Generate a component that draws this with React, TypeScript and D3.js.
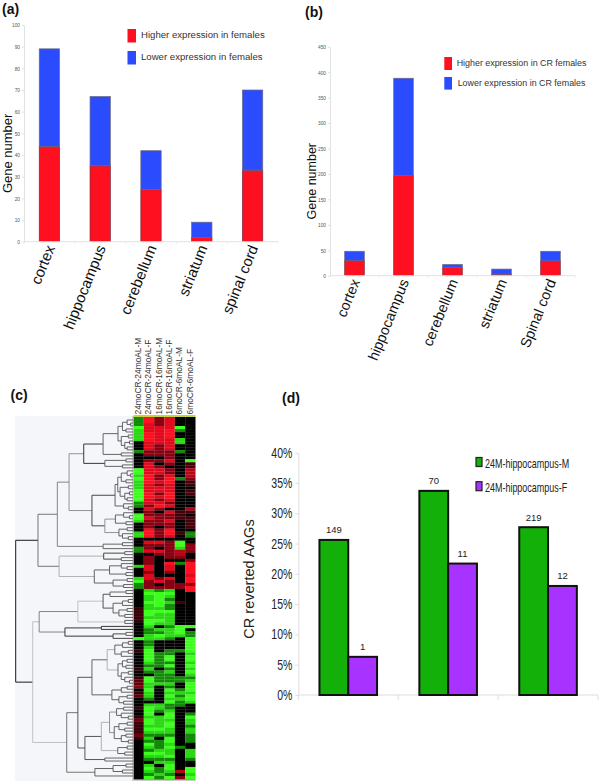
import React, { useEffect, useRef } from 'react';
import * as d3 from 'd3';

// panel (a) and (b)
const regionsA = ['cortex', 'hippocampus', 'cerebellum', 'striatum', 'spinal cord'];
const higherA = [44, 35, 24, 2, 33];
const lowerA = [45, 32, 18, 7, 37];
const regionsB = ['cortex', 'hippocampus', 'cerebellum', 'striatum', 'Spinal cord'];
const higherB = [30, 197, 16, 3, 29];
const lowerB = [18, 191, 6, 10, 19];

// panel (d)
const groupsD = ['g1', 'g2', 'g3'];
const maleD = [25.6, 33.7, 27.7];
const femaleD = [6.3, 21.7, 18];
const maleCounts = ['149', '70', '219'];
const femaleCounts = ['1', '11', '12'];

// panel (c) heat map, one array per column, red > 0, green < 0
const heatLabels = ['24moCR-24moAL-M', '24moCR-24moAL-F', '16moCR-16moAL-M', '16moCR-16moAL-F', '6moCR-6moAL-M', '6moCR-6moAL-F'];
const col24M = [
  -1, -1, -1, -3, -2, -2, -2, -2, 0, 0, 0, -1, 0, 0, 0, 0, 0, -3, -3, -2,
  -3, -2, -2, -2, -3, -3, -3, -3, -1, -1, 0, 0, -3, -3, -2, 0, 0, 0, -2, -2,
  0, 0, 0, -1, -1, 0, 0, 0, 0, -2, 0, 0, 0, -2, -3, -1, -1, 0, 0, 0,
  0, 0, 0, 0.4, 0.4, 0.4, 0.4, 0.4, 0, 0, 0, 0, 0, -3, 0, 0, 0, 0.4, 0, 0,
  0, 0, 0, 0.4, 0, 0, 0.4, 0.7, 0.7, 1, 0, 0.4, 0.7, 0, 0, 0, 0.4, 0, 0, 0.4,
  0.8, 0.4, 0.4, 0.4, 0.4, 0.8, 0.4, 0, 0, 0, 0, 0, 0, 0, 0, 0, 0, 0, 0, 0,
];
const col24F = [
  3, 3, 2, 2, 2, 3, 3, 3, 2, 2, 2, 1, 1, 0, 1, 2, 2, 2, 2, 3,
  3, 3, 2, 2, 2, 3, 3, 2, 2, 1, 2, 1, 1, 2, 1, 1, 1, 3, 3, 3,
  0, 2, 1, 1, 2, 0, 1, 1, 1, 2, 2, 1, 2, 2, 1, 1, 1, -2, -3, -2,
  -2, -3, -2, -2, -3, -3, -2, -3, -3, -2, -1, -1, -2, -2, -1, -1, -2, -3, -3, -3,
  -3, -2, -1, -2, -1, 0, -3, -3, -2, -2, -3, -2, -2, -1, 0, -2, -3, -3, -3, -2,
  -3, -3, -2, -3, -2, -1, -2, -1, -3, -2, -1, -3, -2, -1, 0, -2, -3, -2, -1, -3,
];
const col16M = [
  1, 1, 1, 2, 2, 2, 2, 2, 2, 1, 1, 1, 1, 0, 1, 0, 1, 2, 2, 1,
  1, 2, 1, 2, 2, 1, 2, 1, 2, 3, 1, 0, 1, 1, 1, 1, 0, 1, 1, 1,
  0, 2, 1, 0, 2, 1, 0, 0, 0, 0, 0, 0, 0, 1, 2, 0, 1, -1, -3, -3,
  -3, -3, -3, -2, -3, -2, -2, -3, -2, 0, -2, -1, -3, -2, 0, 0, 0, 0, -1, -1,
  -1, -1, -1, 0, -1, -1, -1, -1, -2, 0, 0, 0, 0, 0, 0, -2, -2, -1, 0, -2,
  -2, -2, -2, -3, -2, -1, 0, -1, -1, -1, -2, -3, -2, -1, -2, 0, -1, -1, -2, -1,
];
const col16F = [
  2, 2, 2, 2, 3, 3, 3, 2, 2, 2, 2, 1, 1, 1, 2, 1, 0, 1, 1, 2,
  3, 3, 2, 2, 2, 3, 3, 2, 1, 2, 0, 2, 1, 1, 2, 1, 1, 3, 3, 2,
  0, 1, 1, 1, 1, 1, 1, 0, 3, 2, 2, 1, 0, 2, 1, 1, 1, -2, -3, -2,
  -1, -2, -1, -1, -3, -2, -2, -2, -2, -1, -2, -2, -2, -1, 0, 0, 0, -1, -1, -3,
  -3, -1, -3, -1, -2, -1, -1, -1, -2, -1, -3, -2, -3, -2, -3, -1, -1, -2, -3, -3,
  -2, -3, -3, -2, -2, -1, -3, -3, -2, -3, -2, -2, -3, -1, -2, -3, -3, -2, -1, -3,
];
const col6M = [
  0, 0, 0, -3, -1, 0, 0, -2, -2, 0, 0, -1, 0, 0, 0, 0, 0, 0, 0, 0,
  -1, 0, 0, 0, 0, 0, 0, 0, 0, 0, 0, 0.5, 0.5, 0.5, 0, 0, 0, 0, 0.5, 0,
  0, -3, -3, -2, 1.5, 1.5, 1, 0, -1, 0, 0, 0, 0, 0, 0, 1, 1, 0, 0, 0,
  0, 0.5, 0, 0, 0, 0, 0, 0, 0, -3, -3, -3, -2, 0, 0, 0, 0, -1, 0, 0,
  0, 0, 0, 0, 0, 0, -1, -1, 0, 0, -1, -2, -1, -2, -1, -1, 0, 0, 0, 0,
  0, 0, 0, 0, 0, 0, 0, 0, 0, -1, 0, 0, 0, 0, 0, 0, 0, 1.5, 0, 1,
];
const col6F = [
  0, 0, 0, 0, 0, 0, 0, 0, 0, 0, 0, 0, 0, 0, -3, 0.5, 0.5, 1.5, 1.5, 1.5,
  1, 0.5, 0.5, 0, 0.5, 0.5, 0, 0, 0, 0, 1.5, 0.5, 0, 0.5, 0.5, 0.5, 0.5, 0, -1, -1,
  0, 0, 1, 1, 1, 0, 0, 1, 3, 3, 3, 3, 2, 3, 3, 1, 3, 3, 0, 0,
  0, 0, 0, 0, 0, 0, 0, 0, 0, -3, 0, -1, -1, -3, -3, -3, -3, -3, -2, -3,
  -3, -2, -3, -2, -3, -2, -1, -2, -3, -3, -3, -2, -3, -3, -2, 0, 0, 0, -1, -3,
  -2, -2, -1, -2, -2, -1, -1, -1, 0, 0, -2, -2, -2, -1, 0, 0, -3, -3, -2, -3,
];
const heatColumns = [col24M, col24F, col16M, col16F, col6M, col6F];

// panel (c) dendrogram: [merge distance, child, child, tone], 0 is a leaf (a heat map row)
type Branch = 0 | [number, Branch, Branch, string?];
const topLeft: Branch = [0.42,
  [0.255,
    [0.128, [0.09, [0.05, 0, [0.02, 0, 0]], [0.06, 0, 0]], [0.1, [0.04, 0, 0], [0.07, [0.03, 0, 0], [0.05, 0, 0]]]],
    [0.1, 0, 0]],
  [0.24, [0.06, 0, 0], [0.09, 0, 0]], '#222'];
const topRight: Branch = [0.35,
  [0.153,
    [0.13, [0.1, [0.05, 0, [0.02, 0, 0]], [0.06, 0, 0]], [0.11, [0.04, 0, 0], [0.07, [0.03, 0, 0], [0.05, 0, 0]]]],
    [0.08, 0, [0.04, 0, 0]]],
  [0.24, [0.15, [0.08, 0, [0.03, 0, 0]], [0.06, 0, 0]], [0.12, [0.05, 0, 0], [0.09, 0, [0.04, 0, 0]]], '#888'], '#333'];
const topSmall: Branch = [0.255, [0.09, 0, 0], 0];
const midUpper: Branch = [0.25, [0.07, 0, 0], [0.1, 0, 0], '#333'];
const midLower: Branch = [0.33, [0.2, [0.1, 0, [0.05, 0, 0]], [0.06, 0, 0]], [0.17, [0.05, 0, 0], [0.08, 0, 0]], '#555'];
const upperTree: Branch = [0.81,
  [0.645, [0.545, topLeft, topRight, '#888'], topSmall, '#777'],
  [0.63, midUpper, midLower, '#aaa'], '#666'];
const greenTop: Branch = [0.47,
  [0.255, [0.196, [0.06, 0, 0], 0], [0.17, [0.09, [0.04, 0, 0], 0], [0.12, [0.05, 0, 0], [0.07, 0, 0]]], '#444'],
  [0.07, 0, 0], '#bbb'];
const greenSmall: Branch = [0.58, [0.27, 0, 0, '#222'], [0.17, [0.06, 0, 0], 0, '#333'], '#222'];
const greenA: Branch = [0.35,
  [0.22,
    [0.155, [0.09, [0.04, 0, 0], 0], [0.1, [0.04, 0, 0], 0]],
    [0.128, [0.09, [0.05, 0, 0], [0.06, 0, 0]], [0.1, [0.04, 0, 0], [0.07, 0, [0.03, 0, 0]]]], '#aaa'],
  [0.18, [0.1, [0.05, 0, 0], 0], [0.12, [0.05, 0, 0], [0.08, 0, 0]]], '#555'];
const greenB: Branch = [0.41,
  [0.27,
    [0.2, [0.14, [0.08, 0, 0], [0.1, 0, [0.04, 0, 0]]], [0.16, [0.12, [0.05, 0, 0], [0.07, 0, 0]], [0.1, [0.06, 0, 0], [0.04, 0, 0]]], '#888'],
    [0.13, [0.05, 0, 0], [0.07, 0, 0]], '#aaa'],
  [0.24, 0, 0], '#444'];
const greenC: Branch = [0.325, [0.17, [0.06, 0, 0], [0.09, 0, 0]], 0, '#555'];
const lowerTree: Branch = [0.855,
  [0.8, greenTop, greenSmall, '#777'],
  [0.565, [0.47, greenA, greenB, '#444'], greenC, '#666'], '#bbb'];
const dendrogram: Branch = [1, upperTree, lowerTree, '#000'];

const RED = '#ff1020';
const BLUE = '#2b4bff';

const drawStacked = (
  svg: d3.Selection<SVGSVGElement, unknown, null, undefined>,
  opt: {
    names: string[]; higher: number[]; lower: number[]; max: number; step: number;
    left: number; right: number; top: number; bottom: number; labelSize: number; angle: number;
    titleX: number; titleSize: number;
  },
) => {
  const g = svg.append('g');
  const x = d3.scaleBand().domain(opt.names).range([opt.left, opt.right]).paddingInner(0.6).paddingOuter(0.3);
  const y = d3.scaleLinear().domain([0, opt.max]).range([opt.bottom, opt.top]);

  const rows = opt.names.map((name, i) => ({ name, higher: opt.higher[i], lower: opt.lower[i] }));
  const series = d3.stack<any>().keys(['higher', 'lower'])(rows);
  series.forEach((s, k) => {
    g.selectAll(null).data(s).enter().append('rect')
      .attr('x', (d: any) => x(d.data.name)!)
      .attr('width', x.bandwidth())
      .attr('y', (d: any) => y(d[1]))
      .attr('height', (d: any) => y(d[0]) - y(d[1]))
      .attr('fill', k === 0 ? RED : BLUE)
      .attr('stroke', k === 0 ? '#7a2a3a' : '#6a6a80')
      .attr('stroke-width', 0.7);
  });

  const yAxis = g.append('g').attr('transform', `translate(${opt.left},0)`)
    .call(d3.axisLeft(y).tickValues(d3.range(0, opt.max + 1, opt.step)).tickSize(2).tickPadding(2).tickSizeOuter(0));
  yAxis.selectAll('path,line').attr('stroke', '#e2e2e2');
  yAxis.selectAll('text')
    .attr('font-family', 'Liberation Sans').attr('font-size', 6).attr('fill', '#555')
    .attr('transform', function () {
      const tx = +d3.select(this).attr('x');
      return `translate(${tx * 0.2},0) scale(0.8,1)`;
    });

  // baseline with ticks at the band edges
  const edges = d3.range(opt.names.length + 1).map((i) => opt.left + (i * (opt.right - opt.left)) / opt.names.length);
  g.append('line').attr('x1', opt.left).attr('x2', opt.right).attr('y1', opt.bottom).attr('y2', opt.bottom).attr('stroke', '#e2e2e2');
  g.selectAll(null).data(edges).enter().append('line')
    .attr('x1', (d) => d).attr('x2', (d) => d).attr('y1', opt.bottom).attr('y2', opt.bottom + 2).attr('stroke', '#e8e8e8');

  g.selectAll(null).data(opt.names).enter().append('text')
    .attr('transform', (d) => `translate(${x(d)! + x.bandwidth() * 0.55},${opt.bottom + 4}) rotate(${opt.angle})`)
    .attr('text-anchor', 'end').attr('dy', '0.35em')
    .attr('font-family', 'Liberation Sans').attr('font-size', opt.labelSize).attr('fill', '#111')
    .text((d) => d);

  g.append('text')
    .attr('transform', `translate(${opt.titleX},${(opt.top + opt.bottom) / 2 + 20}) rotate(-90)`)
    .attr('text-anchor', 'middle')
    .attr('font-family', 'Liberation Sans').attr('font-size', opt.titleSize).attr('fill', '#111')
    .text('Gene number');
};

const App: React.FC = () => {
  const svgRef = useRef<SVGSVGElement>(null);

  useEffect(() => {
    if (!svgRef.current) return;
    const svg = d3.select(svgRef.current);
    svg.selectAll('*').remove();

    const panelLabel = (t: string, px: number, py: number) =>
      svg.append('text').attr('x', px).attr('y', py).attr('font-family', 'Liberation Sans')
        .attr('font-weight', 'bold').attr('font-size', 14).attr('fill', '#111').text(t);
    panelLabel('(a)', 2, 14);
    panelLabel('(b)', 305, 17);
    panelLabel('(c)', 10.5, 400);
    panelLabel('(d)', 282, 403);

    const legend = (lx: number, ly: number, w: number, h: number, color: string, tx: number, tb: number, size: number, label: string) => {
      svg.append('rect').attr('x', lx).attr('y', ly).attr('width', w).attr('height', h).attr('fill', color);
      svg.append('text').attr('x', tx).attr('y', tb).attr('font-family', 'Liberation Sans')
        .attr('font-size', size).attr('fill', '#333').text(label);
    };

    // (a)
    drawStacked(svg, {
      names: regionsA, higher: higherA, lower: lowerA, max: 100, step: 10,
      left: 24, right: 278, top: 25, bottom: 241.7, labelSize: 15, angle: -68, titleX: 12, titleSize: 13,
    });
    legend(127.5, 29, 8.5, 13.5, RED, 141, 37.5, 9.6, 'Higher expression in females');
    legend(127.5, 51, 8.5, 13.5, BLUE, 141, 59.5, 9.6, 'Lower expression in females');

    // (b)
    drawStacked(svg, {
      names: regionsB, higher: higherB, lower: lowerB, max: 450, step: 50,
      left: 330, right: 575, top: 46.7, bottom: 275.7, labelSize: 14.5, angle: -68, titleX: 316, titleSize: 12.5,
    });
    legend(444.3, 57, 7.7, 13, RED, 456.7, 65.5, 8.9, 'Higher expression in CR females');
    legend(444.3, 77, 7.7, 12.6, BLUE, 457.7, 85.5, 8.9, 'Lower expression in CR females');

    // (c) dendrogram backdrop
    const rowCount = col24M.length;
    const heatTop = 417;
    const heatBottom = 779;
    const heatX = d3.scaleBand<number>().domain(d3.range(heatColumns.length)).range([133.5, 195.5]);
    const heatY = d3.scaleBand<number>().domain(d3.range(rowCount)).range([heatTop, heatBottom]);
    const heatColor = d3.scaleLinear<string>().domain([-3, -2, -1, 0, 1, 2, 3])
      .range(['#3cff1e', '#2ad814', '#128a08', '#000000', '#8a0012', '#e00a1c', '#ff1020']);

    svg.append('rect').attr('x', 15).attr('y', 416).attr('width', 118).attr('height', 365).attr('fill', '#f5f6f9');
    svg.append('rect').attr('x', 133.5).attr('y', 415).attr('width', 62).attr('height', 2).attr('fill', '#c8d23c');
    svg.append('rect').attr('x', 133.5).attr('y', 779).attr('width', 62).attr('height', 1.5).attr('fill', '#999');

    heatColumns.forEach((col, c) => {
      svg.append('g').selectAll('rect').data(col).enter().append('rect')
        .attr('x', heatX(c)!)
        .attr('width', heatX.bandwidth())
        .attr('y', (_, i) => heatY(i)!)
        .attr('height', heatY.bandwidth() + 0.2)
        .attr('fill', (d) => heatColor(d));
    });
    svg.append('line').attr('x1', 133).attr('x2', 133).attr('y1', 416).attr('y2', 781).attr('stroke', '#aaa').attr('stroke-width', 1);

    svg.append('g').selectAll('text').data(heatLabels).enter().append('text')
      .attr('transform', (_, i) => `translate(${heatX(i)! + heatX.bandwidth() / 2 + 2.4},414.5) rotate(-90)`)
      .attr('font-family', 'Liberation Sans').attr('font-size', 8.4).attr('fill', '#333')
      .text((d) => d);

    // (c) dendrogram, rows come from d3.cluster, x from the merge distance
    const root = d3.hierarchy<Branch>(dendrogram, (d) => (d === 0 ? null : [d[1], d[2]]));
    d3.cluster<Branch>().size([heatY.step() * (rowCount - 1), 1]).separation(() => 1)(root);
    const distX = d3.scaleLinear().domain([0, 1]).range([133, 15.7]);
    const dist = (n: d3.HierarchyNode<Branch>) => (n.data === 0 ? 0 : n.data[0]);
    const tone = (n: d3.HierarchyNode<Branch>) => (n.data === 0 ? '#555' : n.data[3] ?? '#555');
    const rowY = (n: any) => heatTop + heatY.step() / 2 + n.x;
    const dg = svg.append('g').attr('fill', 'none').attr('stroke-width', 0.9);
    root.descendants().forEach((n) => {
      if (!n.children) return;
      const [a, b] = n.children;
      dg.append('path').attr('stroke', tone(n))
        .attr('d', `M${distX(dist(a))},${rowY(a)}H${distX(dist(n))}V${rowY(b)}H${distX(dist(b))}`);
    });

    // (d)
    const dLeft = 298.3;
    const dRight = 598;
    const dBottom = 695;
    const dTop = 452.7;
    const gx = d3.scaleBand().domain(groupsD).range([dLeft, dRight]);
    const bx = d3.scaleBand().domain(['m', 'f']).range([gx.bandwidth() / 2 - 28.8, gx.bandwidth() / 2 + 28.8]);
    const dy = d3.scaleLinear().domain([0, 40]).range([dBottom, dTop]);

    const yAxisD = svg.append('g').attr('transform', `translate(${dLeft},0)`)
      .call(d3.axisLeft(dy).tickValues(d3.range(0, 41, 5)).tickFormat((d) => `${d}%`).tickSize(3).tickPadding(3).tickSizeOuter(0));
    yAxisD.selectAll('path,line').attr('stroke', '#ddd');
    yAxisD.selectAll('text')
      .attr('font-family', 'Liberation Sans').attr('font-size', 14).attr('fill', '#222')
      .attr('transform', function () {
        const tx = +d3.select(this).attr('x');
        return `translate(${tx * 0.25},0) scale(0.75,1)`;
      });
    svg.append('line').attr('x1', dLeft).attr('x2', dRight).attr('y1', dBottom).attr('y2', dBottom).attr('stroke', '#ddd');
    svg.selectAll(null).data(d3.range(groupsD.length + 1)).enter().append('line')
      .attr('x1', (i) => dLeft + i * gx.step()).attr('x2', (i) => dLeft + i * gx.step())
      .attr('y1', dBottom).attr('y2', dBottom + 5).attr('stroke', '#ddd');

    const barsD = [
      { key: 'm', values: maleD, counts: maleCounts, color: '#13b00a' },
      { key: 'f', values: femaleD, counts: femaleCounts, color: '#a832ff' },
    ];
    barsD.forEach((s) => {
      groupsD.forEach((grp, i) => {
        const px = gx(grp)! + bx(s.key)!;
        svg.append('rect')
          .attr('x', px).attr('width', bx.bandwidth())
          .attr('y', dy(s.values[i])).attr('height', dBottom - dy(s.values[i]))
          .attr('fill', s.color).attr('stroke', '#111').attr('stroke-width', 2);
        svg.append('text')
          .attr('x', px + bx.bandwidth() / 2).attr('y', dy(s.values[i]) - 6.5)
          .attr('text-anchor', 'middle').attr('font-family', 'Liberation Sans')
          .attr('font-size', 9.5).attr('fill', '#222').text(s.counts[i]);
      });
    });

    svg.append('text').attr('transform', `translate(254,579) rotate(-90)`)
      .attr('text-anchor', 'middle').attr('font-family', 'Liberation Sans')
      .attr('font-size', 14.5).attr('fill', '#222').text('CR reverted AAGs');

    const legendD = [
      { label: '24M-hippocampus-M', color: '#13b00a', top: 457.5, base: 468 },
      { label: '24M-hippocampus-F', color: '#a832ff', top: 481.7, base: 492 },
    ];
    legendD.forEach((l) => {
      svg.append('rect').attr('x', 476).attr('y', l.top).attr('width', 6).attr('height', 9)
        .attr('fill', l.color).attr('stroke', '#222').attr('stroke-width', 1.2);
      svg.append('text').attr('transform', `translate(485,${l.base}) scale(0.69,1)`)
        .attr('font-family', 'Liberation Sans').attr('font-size', 13).attr('fill', '#222')
        .text(l.label);
    });
  }, []);

  return (
    <svg
      ref={svgRef}
      width={600}
      height={781}
      viewBox="0 0 600 781"
      style={{ position: 'absolute', left: 0, top: 0, display: 'block', background: '#fff' }}
    />
  );
};

export default App;
